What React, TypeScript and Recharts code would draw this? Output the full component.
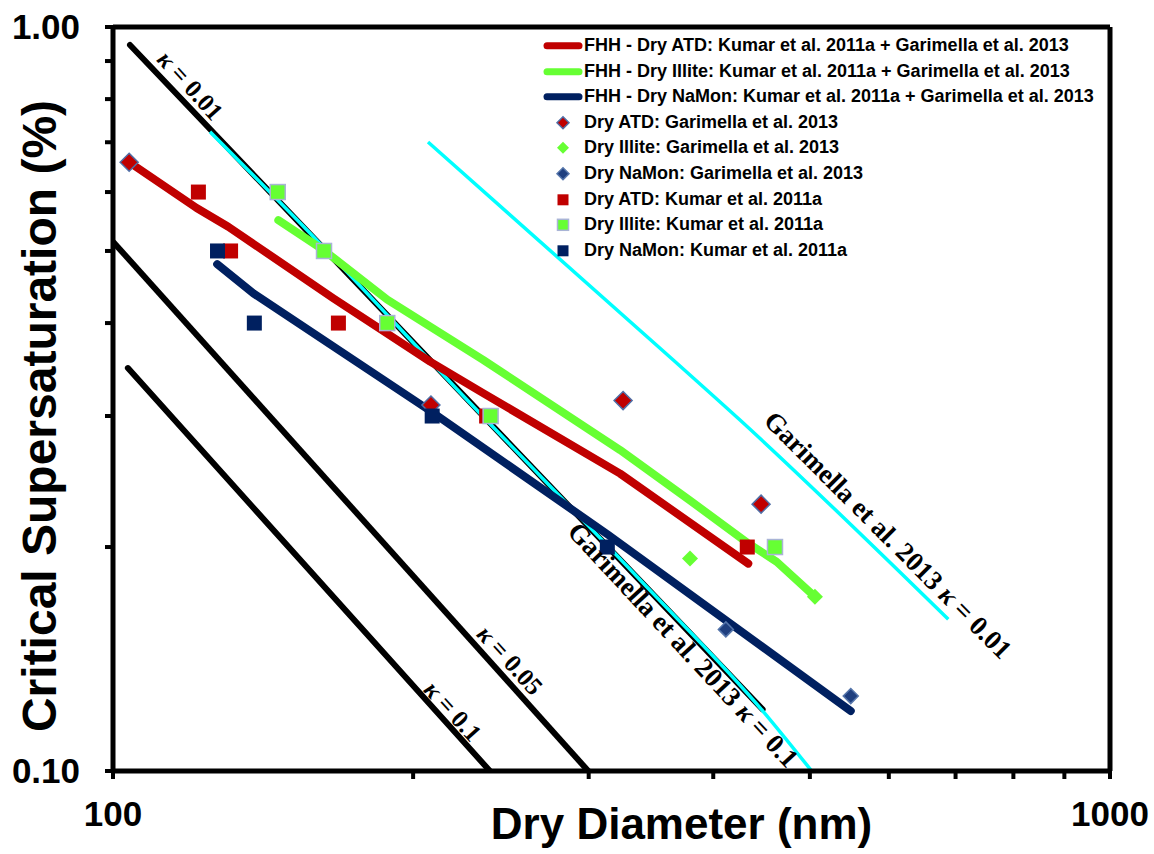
import React from 'react';
import { ComposedChart, Line, Scatter, XAxis, YAxis, ReferenceLine, ReferenceDot } from 'recharts';

// ---- axis ticks ----
const xTicks = [100, 200, 300, 400, 500, 600, 700, 800, 900, 1000];
const yTicks = [0.1, 0.2, 0.3, 0.4, 0.5, 0.6, 0.7, 0.8, 0.9, 1.0];

// ---- kappa-Kohler reference lines ----
const kappa001 = [{ x: 104.0, y: 0.9458 }, { x: 448.3, y: 0.121 }];
const kappa005 = [{ x: 100, y: 0.5146 }, { x: 299.7, y: 0.1 }];
const kappa01 = [{ x: 103.5, y: 0.348 }, { x: 238.8, y: 0.1 }];

// ---- Garimella et al. 2013 curves (cyan) ----
const garKappa01 = [
  { x: 125.1, y: 0.7233 }, { x: 160.1, y: 0.517 }, { x: 218.4, y: 0.332 },
  { x: 337.9, y: 0.1806 }, { x: 449.0, y: 0.1202 }, { x: 502.1, y: 0.1 },
];
const garKappa001 = [
  { x: 207.0, y: 0.7005 }, { x: 364.7, y: 0.3568 }, { x: 425.5, y: 0.2963 }, { x: 688.4, y: 0.1599 },
];

// ---- FHH fits ----
const fhhAtd = [
  { x: 104.0, y: 0.657 }, { x: 121.3, y: 0.571 }, { x: 130.5, y: 0.539 }, { x: 166.3, y: 0.432 },
  { x: 208.0, y: 0.355 }, { x: 235.1, y: 0.322 }, { x: 322.6, y: 0.251 }, { x: 433.7, y: 0.19 },
];
const fhhIllite = [
  { x: 146.5, y: 0.55 }, { x: 162.8, y: 0.501 }, { x: 188.4, y: 0.43 }, { x: 235.1, y: 0.357 },
  { x: 322.6, y: 0.27 }, { x: 379.1, y: 0.231 }, { x: 432.1, y: 0.203 }, { x: 463.2, y: 0.191 },
  { x: 505.9, y: 0.1715 },
];
const fhhNaMon = [
  { x: 127.2, y: 0.48 }, { x: 138.3, y: 0.4385 }, { x: 208.7, y: 0.304 }, { x: 314.0, y: 0.2076 },
  { x: 549.5, y: 0.1204 },
];

// ---- Garimella et al. 2013 data ----
const garAtd = [
  { x: 103.8, y: 0.658 }, { x: 208.4, y: 0.3104 }, { x: 324.8, y: 0.3147 }, { x: 446.7, y: 0.2284 },
];
const garIllite = [{ x: 379.1, y: 0.1931 }, { x: 505.9, y: 0.1715 }];
const garNaMon = [{ x: 411.8, y: 0.155 }, { x: 549.5, y: 0.1261 }];

// ---- Kumar et al. 2011a data ----
const kumarAtd = [
  { x: 121.8, y: 0.6 }, { x: 131.2, y: 0.5 }, { x: 168.3, y: 0.4 }, { x: 237.0, y: 0.3 }, { x: 432.7, y: 0.2 },
];
const kumarIllite = [
  { x: 146.3, y: 0.6 }, { x: 162.8, y: 0.5 }, { x: 188.4, y: 0.4 }, { x: 239.2, y: 0.3 }, { x: 461.3, y: 0.2 },
];
const kumarNaMon = [
  { x: 127.3, y: 0.5 }, { x: 138.6, y: 0.4 }, { x: 209.0, y: 0.3 }, { x: 313.2, y: 0.2 },
];

// ---- text annotations ----
const annotations = [
  { x: 119.6, y: 0.835, pre: '', text: ' = 0.01', angle: 48, size: 25 },
  { x: 250.2, y: 0.141, pre: '', text: ' = 0.05', angle: 48, size: 25 },
  { x: 219.3, y: 0.1204, pre: '', text: ' = 0.1', angle: 48, size: 25 },
  { x: 373.1, y: 0.1477, pre: 'Garimella et al. 2013 ', text: ' = 0.1', angle: 47, size: 27 },
  { x: 598.9, y: 0.2076, pre: 'Garimella et al. 2013 ', text: ' = 0.01', angle: 45, size: 27 },
];

const legendItems = [
  { label: 'FHH - Dry ATD: Kumar et al. 2011a + Garimella et al. 2013', kind: 'line', color: '#C00000' },
  { label: 'FHH - Dry Illite: Kumar et al. 2011a + Garimella et al. 2013', kind: 'line', color: '#66FF33' },
  { label: 'FHH - Dry NaMon: Kumar et al. 2011a + Garimella et al. 2013', kind: 'line', color: '#002060' },
  { label: 'Dry ATD: Garimella et al. 2013', kind: 'diamond', color: '#C00000', stroke: '#4F6EA6' },
  { label: 'Dry Illite: Garimella et al. 2013', kind: 'diamond', color: '#66FF33', stroke: 'none' },
  { label: 'Dry NaMon: Garimella et al. 2013', kind: 'diamond', color: '#1F3F7F', stroke: '#5575AA' },
  { label: 'Dry ATD: Kumar et al. 2011a', kind: 'square', color: '#C00000', stroke: 'none' },
  { label: 'Dry Illite: Kumar et al. 2011a', kind: 'square', color: '#66FF33', stroke: '#A9B4D6' },
  { label: 'Dry NaMon: Kumar et al. 2011a', kind: 'square', color: '#002060', stroke: 'none' },
];

const SANS = "'Liberation Sans', Arial, sans-serif";
const SERIF = "'Liberation Serif', 'Times New Roman', serif";

const makeSquare = (fill: string, stroke: string, size: number) => (props: any) => {
  const { cx, cy } = props;
  if (cx == null || cy == null) return null;
  return (
    <rect x={cx - size / 2} y={cy - size / 2} width={size} height={size} fill={fill}
      stroke={stroke} strokeWidth={stroke === 'none' ? 0 : 1.5} />
  );
};
const makeDiamond = (fill: string, stroke: string, size: number) => (props: any) => {
  const { cx, cy } = props;
  if (cx == null || cy == null) return null;
  const h = size / 2;
  return (
    <polygon points={`${cx},${cy - h} ${cx + h},${cy} ${cx},${cy + h} ${cx - h},${cy}`} fill={fill}
      stroke={stroke} strokeWidth={stroke === 'none' ? 0 : 1.5} />
  );
};

const makeRotLabel = (pre: string, text: string, angle: number, size: number) => (props: any) => {
  const vb = props.viewBox || {};
  const x = (vb.x || 0) + (vb.width || 0) / 2;
  const y = (vb.y || 0) + (vb.height || 0) / 2;
  return (
    <text transform={`translate(${x},${y}) rotate(${angle})`} textAnchor="middle" dominantBaseline="central"
      fontFamily={SERIF} fontWeight="bold" fontSize={size} fill="#000">
      {pre}<tspan fontStyle="italic">κ</tspan>{text}
    </text>
  );
};

const XTitle = (props: any) => {
  const vb = props.viewBox;
  const cx = vb.x + vb.width / 2 + 70;
  return (
    <text x={cx} y={vb.y + 68} textAnchor="middle" fontFamily={SANS} fontWeight="bold" fontSize={44} fill="#000">
      Dry Diameter (nm)
    </text>
  );
};
const YTitle = (props: any) => {
  const vb = props.viewBox;
  const cy = vb.y + vb.height / 2 + 17;
  return (
    <text transform={`translate(56,${cy}) rotate(-90)`} textAnchor="middle" fontFamily={SANS} fontWeight="bold"
      fontSize={48} fill="#000">
      Critical Supersaturation (%)
    </text>
  );
};

const LegendBox = () => (
  <div style={{ position: 'absolute', left: 540, top: 33, fontFamily: SANS, fontWeight: 'bold', fontSize: 18, color: '#000' }}>
    {legendItems.map((it) => (
      <div key={it.label} style={{ display: 'flex', alignItems: 'center', height: 25.6, whiteSpace: 'nowrap' }}>
        <svg width={44} height={25.6} style={{ flex: 'none' }}>
          {it.kind === 'line' && (
            <line x1={7} y1={12.8} x2={39} y2={12.8} stroke={it.color} strokeWidth={7} strokeLinecap="round" />
          )}
          {it.kind === 'diamond' && makeDiamond(it.color, it.stroke as string, 12)({ cx: 23, cy: 12.8 })}
          {it.kind === 'square' && makeSquare(it.color, it.stroke as string, 11)({ cx: 23, cy: 12.8 })}
        </svg>
        <span style={{ lineHeight: '25.6px' }}>{it.label}</span>
      </div>
    ))}
  </div>
);

export default function App() {
  const tickStyle = { fontFamily: SANS, fontWeight: 'bold', fontSize: 35, fill: '#000' } as any;
  return (
    <div style={{ position: 'absolute', left: 0, top: 0, width: 1154, height: 854, background: '#fff' }}>
      <ComposedChart width={1154} height={854} margin={{ top: 27, right: 44, bottom: 0, left: 0 }}>
        <XAxis dataKey="x" type="number" scale="log" domain={[100, 1000]} allowDataOverflow ticks={xTicks}
          interval={0} height={83} tickSize={8} tickMargin={22}
          tickFormatter={(v: number) => (v === 100 ? '100' : v === 1000 ? '1000' : '')}
          tick={tickStyle} axisLine={{ stroke: '#000', strokeWidth: 5 }} tickLine={{ stroke: '#000', strokeWidth: 4 }}
          label={{ content: XTitle }} />
        <YAxis dataKey="y" type="number" scale="log" domain={[0.1, 1]} allowDataOverflow ticks={yTicks}
          interval={0} width={113} tickSize={8} tickMargin={25}
          tickFormatter={(v: number) => (v === 0.1 ? '0.10' : v === 1 ? '1.00' : '')}
          tick={tickStyle} axisLine={{ stroke: '#000', strokeWidth: 5 }} tickLine={{ stroke: '#000', strokeWidth: 4 }}
          label={{ content: YTitle }} />

        <Line data={kappa001} dataKey="y" stroke="#000" strokeWidth={6} dot={false} isAnimationActive={false} strokeLinecap="round" />
        <Line data={kappa005} dataKey="y" stroke="#000" strokeWidth={6} dot={false} isAnimationActive={false} />
        <Line data={kappa01} dataKey="y" stroke="#000" strokeWidth={6} dot={false} isAnimationActive={false} strokeLinecap="round" />

        <Line data={garKappa01} dataKey="y" stroke="#00FFFF" strokeWidth={3.5} dot={false} isAnimationActive={false} type="monotone" />
        <Line data={garKappa001} dataKey="y" stroke="#00FFFF" strokeWidth={3.5} dot={false} isAnimationActive={false} type="monotone" />

        <Line data={fhhAtd} dataKey="y" stroke="#C00000" strokeWidth={8} dot={false} isAnimationActive={false} strokeLinecap="round" strokeLinejoin="round" />
        <Line data={fhhIllite} dataKey="y" stroke="#66FF33" strokeWidth={8} dot={false} isAnimationActive={false} strokeLinecap="round" strokeLinejoin="round" />
        <Line data={fhhNaMon} dataKey="y" stroke="#002060" strokeWidth={8} dot={false} isAnimationActive={false} strokeLinecap="round" strokeLinejoin="round" />

        <Scatter data={garAtd} isAnimationActive={false} shape={makeDiamond('#C00000', '#4F6EA6', 18)} />
        <Scatter data={garIllite} isAnimationActive={false} shape={makeDiamond('#66FF33', 'none', 16)} />
        <Scatter data={garNaMon} isAnimationActive={false} shape={makeDiamond('#1F3F7F', '#5575AA', 15)} />
        <Scatter data={kumarAtd} isAnimationActive={false} shape={makeSquare('#C00000', 'none', 15)} />
        <Scatter data={kumarIllite} isAnimationActive={false} shape={makeSquare('#66FF33', '#A9B4D6', 15)} />
        <Scatter data={kumarNaMon} isAnimationActive={false} shape={makeSquare('#002060', 'none', 15)} />

        <ReferenceLine y={1} stroke="#000" strokeWidth={5} />
        <ReferenceLine x={1000} stroke="#000" strokeWidth={5} />

        {annotations.map((a, i) => (
          <ReferenceDot key={i} x={a.x} y={a.y} r={0.5} fill="none" stroke="none"
            label={{ content: makeRotLabel(a.pre, a.text, a.angle, a.size) }} />
        ))}
      </ComposedChart>
      <LegendBox />
    </div>
  );
}
